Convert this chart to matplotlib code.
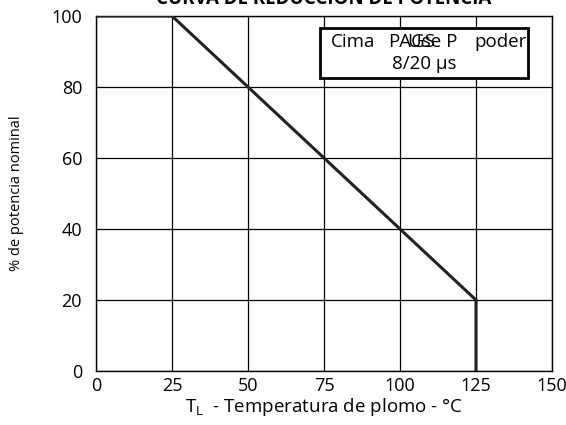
import matplotlib
matplotlib.use("Agg")
import matplotlib.pyplot as plt
from matplotlib.patches import Rectangle

plt.rcParams['font.family'] = ['Open Sans', 'DejaVu Sans']

# curve data
temp = [0, 25, 125, 125]
power = [100, 100, 20, 0]
x_ticks = [0, 25, 50, 75, 100, 125, 150]
y_ticks = [0, 20, 40, 60, 80, 100]

fig = plt.figure(figsize=(5.66, 4.25), dpi=100)
ax = fig.add_axes([96 / 566, 1 - 371 / 425, 456 / 566, 355 / 425])

ax.plot(temp, power, color='#222222', lw=2.2, solid_joinstyle='miter', zorder=3)

ax.set_xlim(0, 150)
ax.set_ylim(0, 100)
ax.set_xticks(x_ticks)
ax.set_yticks(y_ticks)
ax.tick_params(length=0, labelsize=13)
ax.tick_params(axis='y', pad=10)
ax.tick_params(axis='x', pad=4)
ax.grid(True, color='black', lw=0.9)
for s in ax.spines.values():
    s.set_color('black')
    s.set_linewidth(1.0)

ax.set_xlabel('T$_{\\mathregular{L}}$  - Temperatura de plomo - °C', fontsize=13.5, labelpad=1)
ax.set_ylabel('% de potencia nominal', fontsize=10.5, labelpad=20)

# legend-like box (garbled text kept as in the original)
box = Rectangle((73.8, 82.6), 68.3, 14.0, facecolor='white', edgecolor='black',
                lw=2, zorder=4)
ax.add_patch(box)
ax.text(77.3, 92.6, 'Cima', fontsize=13.5, va='center', zorder=5)
ax.text(96.0, 92.6, 'PAGS', fontsize=13.5, va='center', zorder=5)
ax.text(102.5, 92.6, 'Use P', fontsize=13.5, va='center', zorder=5)
ax.text(124.5, 92.6, 'poder', fontsize=13.5, va='center', zorder=5)
ax.text(97.5, 86.4, '8/20 µs', fontsize=13.5, va='center', zorder=5)

fig.text((96 + 552) / 2 / 566, 1 - 4.5 / 425, 'CURVA DE REDUCCIÓN DE POTENCIA',
         fontsize=13.5, fontweight='bold', ha='center', va='baseline')

fig.savefig('out.png', dpi=100)
